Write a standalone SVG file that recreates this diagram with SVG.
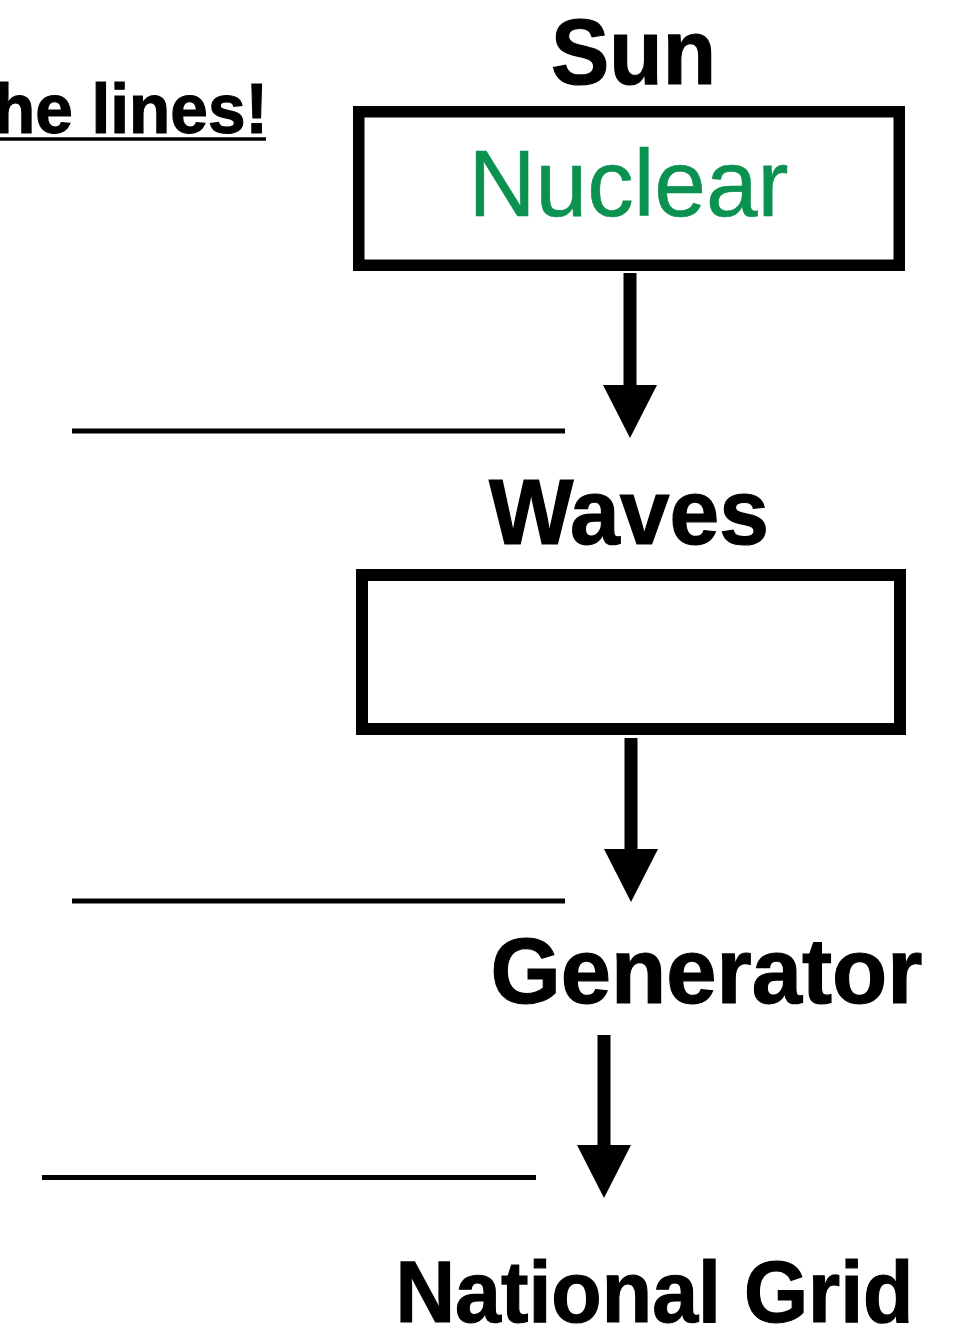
<svg xmlns="http://www.w3.org/2000/svg" width="964" height="1329" viewBox="0 0 964 1329">
  <style>
    .label { font-family: "Liberation Sans", Arial, sans-serif; font-weight: bold; fill: #000; stroke: #000; stroke-width: 1.2; }
    .inner { font-family: "Liberation Sans", Arial, sans-serif; font-weight: normal; fill: #0b9150; stroke: #0b9150; stroke-width: 0.6; }
    .box { fill: #fff; stroke: #000; stroke-width: 12; }
    .blank { stroke: #000; stroke-width: 5; }
    .shaft { stroke: #000; stroke-width: 13; fill: none; marker-end: url(#head); }
  </style>
  <defs>
    <marker id="head" markerUnits="userSpaceOnUse" viewBox="0 0 53 54" markerWidth="53" markerHeight="54" refX="5" refY="27" orient="auto">
      <path d="M0,0 L53,27 L0,54 Z" fill="#000"/>
    </marker>
  </defs>

  <rect width="964" height="1329" fill="#fff"/>

  <!-- heading (runs off the left edge) -->
  <g id="heading">
    <text class="label" x="-6" y="133" font-size="71" textLength="274" lengthAdjust="spacingAndGlyphs">he lines!</text>
    <line x1="0" y1="139" x2="266" y2="139" stroke="#000" stroke-width="3.5"/>
  </g>

  <!-- answer blanks -->
  <g id="blanks">
    <line class="blank" x1="72" y1="431" x2="565" y2="431"/>
    <line class="blank" x1="72" y1="901" x2="565" y2="901"/>
    <line class="blank" x1="42" y1="1177.5" x2="536" y2="1177.5"/>
  </g>

  <g id="sun">
    <text class="label" x="633.5" y="84" font-size="92" text-anchor="middle" textLength="165" lengthAdjust="spacingAndGlyphs">Sun</text>
    <rect class="box" x="358.75" y="111.75" width="540.5" height="153.5" style="stroke-width:11.5"/>
    <text class="inner" x="628.5" y="216" font-size="94" text-anchor="middle" textLength="320" lengthAdjust="spacingAndGlyphs">Nuclear</text>
  </g>

  <g id="waves">
    <text class="label" x="629" y="544" font-size="93" text-anchor="middle" textLength="280" lengthAdjust="spacingAndGlyphs">Waves</text>
    <rect class="box" x="362" y="575" width="538" height="154"/>
  </g>

  <g id="generator">
    <text class="label" x="706.5" y="1003" font-size="93" text-anchor="middle" textLength="432" lengthAdjust="spacingAndGlyphs">Generator</text>
  </g>

  <g id="national-grid">
    <text class="label" x="654.5" y="1322" font-size="87" text-anchor="middle" textLength="518" lengthAdjust="spacingAndGlyphs">National Grid</text>
  </g>

  <g id="connectors">
    <line class="shaft" x1="630" y1="273" x2="630" y2="390"/>
    <line class="shaft" x1="631" y1="738" x2="631" y2="854"/>
    <line class="shaft" x1="604" y1="1035" x2="604" y2="1150"/>
  </g>
</svg>
